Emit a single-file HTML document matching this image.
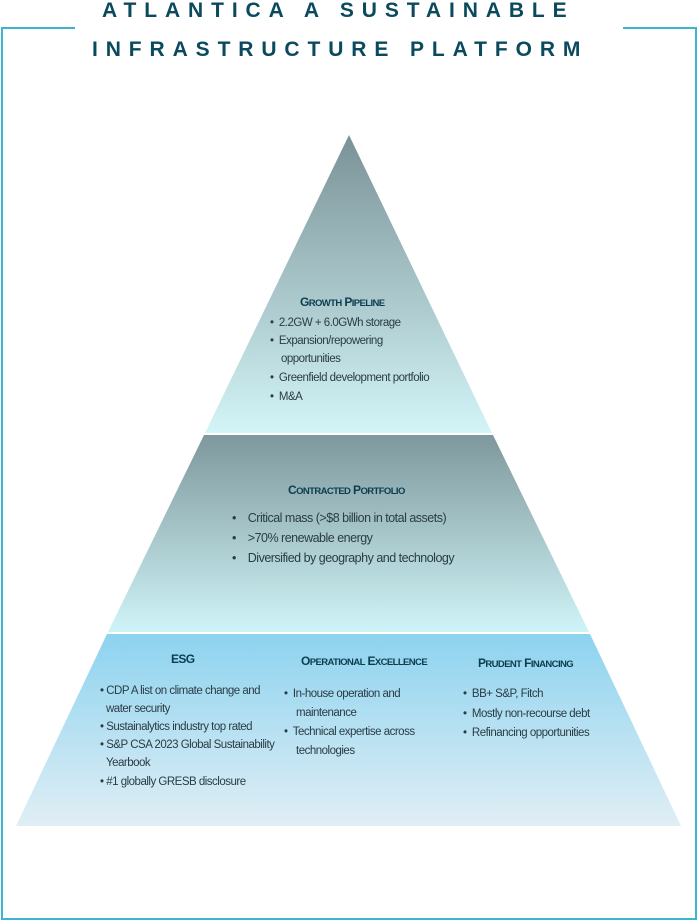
<!DOCTYPE html>
<html><head><meta charset="utf-8"><style>
body{margin:0;background:#fff;}
svg{display:block;}
text{font-family:"Liberation Sans",sans-serif;fill:#1f3b45;}
.t{font-weight:bold;fill:#0b4a5e;font-size:21px;letter-spacing:7.9px;}
.h{font-weight:bold;fill:#0c3d4e;font-size:12px;letter-spacing:-0.6px;}
.b{font-size:11.5px;letter-spacing:-0.5px;fill:#2a3c44;}
.s{font-size:12.5px;letter-spacing:-0.5px;fill:#2a3c44;}
</style></head><body>
<svg width="700" height="924" viewBox="0 0 700 924">
<defs>
<linearGradient id="g1" x1="0" y1="0" x2="0" y2="1"><stop offset="0" stop-color="#7a9297"/><stop offset="1" stop-color="#d3f5f7"/></linearGradient>
<linearGradient id="g2" x1="0" y1="0" x2="0" y2="1"><stop offset="0" stop-color="#7e989d"/><stop offset="1" stop-color="#cff4f7"/></linearGradient>
<linearGradient id="g3" x1="0" y1="0" x2="0" y2="1"><stop offset="0" stop-color="#8dd3ef"/><stop offset="1" stop-color="#e0eef5"/></linearGradient>
</defs>
<polyline points="75,28 2,28 2,919 696,919 696,28 623,28" fill="none" stroke="#3fb3cf" stroke-width="2"/>
<text class="t" x="102" y="17">ATLANTICA A SUSTAINABLE</text>
<text class="t" x="92" y="56">INFRASTRUCTURE PLATFORM</text>
<polygon points="349,135 492,433 205,433" fill="url(#g1)"/>
<polygon points="204,435 493,435 589,632 108,632" fill="url(#g2)"/>
<polygon points="107,634 590,634 681,826 16,826" fill="url(#g3)"/>
<text class="h" x="300" y="306">G<tspan font-size="9.5">ROWTH</tspan> P<tspan font-size="9.5">IPELINE</tspan></text>
<text class="b" x="270" y="326">•&#160; 2.2GW + 6.0GWh storage</text>
<text class="b" x="270" y="344">•&#160; Expansion/repowering</text>
<text class="b" x="281" y="362">opportunities</text>
<text class="b" x="270" y="381">•&#160; Greenfield development portfolio</text>
<text class="b" x="270" y="400">•&#160; M&amp;A</text>
<text class="h" x="288" y="494">C<tspan font-size="9.5">ONTRACTED</tspan> P<tspan font-size="9.5">ORTFOLIO</tspan></text>
<text class="s" x="232" y="522">•&#160;&#160;&#160; Critical mass (&gt;$8 billion in total assets)</text>
<text class="s" x="232" y="542">•&#160;&#160;&#160; &gt;70% renewable energy</text>
<text class="s" x="232" y="562">•&#160;&#160;&#160; Diversified by geography and technology</text>
<text class="h" x="171" y="663">ESG</text>
<text class="h" x="301" y="665">O<tspan font-size="9.5">PERATIONAL</tspan> E<tspan font-size="9.5">XCELLENCE</tspan></text>
<text class="h" x="478" y="667">P<tspan font-size="9.5">RUDENT</tspan> F<tspan font-size="9.5">INANCING</tspan></text>
<text class="b" x="100" y="694">• CDP A list on climate change and</text>
<text class="b" x="106" y="712">water security</text>
<text class="b" x="100" y="730">• Sustainalytics industry top rated</text>
<text class="b" x="100" y="748">• S&amp;P CSA 2023 Global Sustainability</text>
<text class="b" x="106" y="766">Yearbook</text>
<text class="b" x="100" y="785">• #1 globally GRESB disclosure</text>
<text class="b" x="284" y="697">•&#160; In-house operation and</text>
<text class="b" x="296" y="716">maintenance</text>
<text class="b" x="284" y="735">•&#160; Technical expertise across</text>
<text class="b" x="296" y="754">technologies</text>
<text class="b" x="463" y="697">•&#160; BB+ S&amp;P, Fitch</text>
<text class="b" x="463" y="717">•&#160; Mostly non-recourse debt</text>
<text class="b" x="463" y="736">•&#160; Refinancing opportunities</text>
</svg>
</body></html>
